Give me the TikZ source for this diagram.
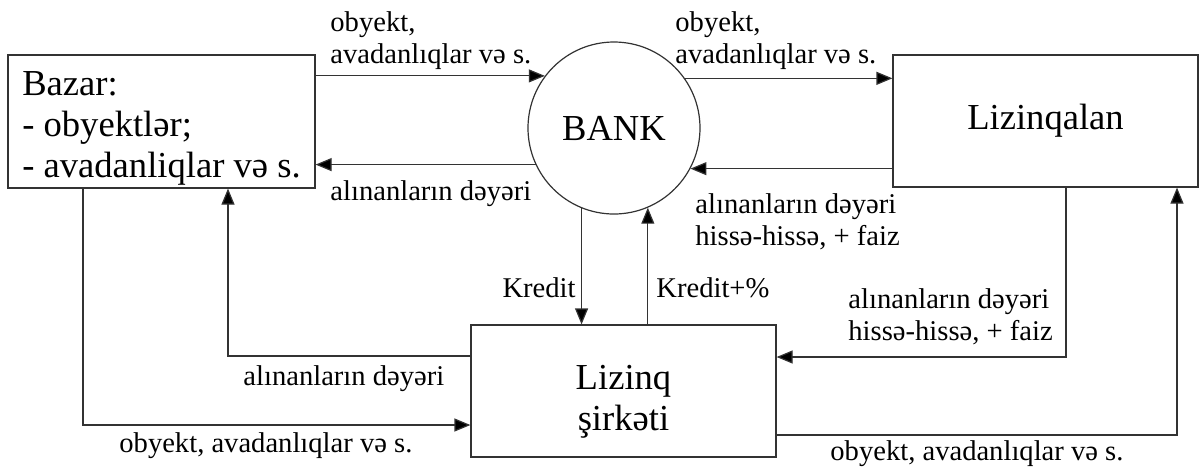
\documentclass[tikz,border=0pt]{standalone}
\usepackage{fontspec}
\setmainfont{Liberation Serif}
\usetikzlibrary{arrows.meta}

\begin{document}
\begin{tikzpicture}[
  x=0.5pt, y=-0.5pt,
  box/.style={
    draw=black!80,
    line width=0.6pt,
    align=center,
    inner sep=0pt,
    font=\fontsize{18.3}{20.5}\selectfont
  },
  bankcircle/.style={
    draw=black!80,
    line width=0.6pt,
    circle,
    inner sep=0pt,
    minimum size=86pt,
    font=\fontsize{18.3}{20.5}\selectfont
  },
  lbl/.style={
    inner sep=0pt,
    align=left,
    font=\fontsize{14.3}{16}\selectfont
  },
  arrow/.style={-{Triangle[length=8pt,width=6.5pt,fill=black]}, draw=black!80, line width=0.6pt}
]
\useasboundingbox (0,0) rectangle (1201,468);

\node[box, align=left, minimum width=153.5pt, minimum height=66.5pt] (bazar) at (161.5,121.5)
  {\rule{0pt}{18.5pt}Bazar:\\- obyektlər;\\- avadanliqlar və s.};
\node[bankcircle] (bank) at (614,128) {BANK};
\node[box, minimum width=152.5pt, minimum height=66pt] (lizinqalan) at (1045.5,121) {Lizinqalan};
\node[box, minimum width=152.5pt, minimum height=66pt] (lizinq) at (623.5,391) {\rule{0pt}{22.5pt}Lizinq\\şirkəti};

\coordinate (bazarout) at (83,425);
\coordinate (bazarin) at (228,356);
\coordinate (lzout) at (1066,357);
\coordinate (lzin) at (1177,435);

% between the market, the bank and the lessee
\draw[arrow] (bazar.east |- bank.143) -- (bank.143);
\draw[arrow] (bank.205) -- (bank.205 -| bazar.east);
\draw[arrow] (bank.35) -- (bank.35 -| lizinqalan.west);
\draw[arrow] (lizinqalan.west |- bank.332) -- (bank.332);

% credit
\draw[arrow] (bank.248) -- (bank.248 |- lizinq.north);
\draw[arrow] (bank.293 |- lizinq.north) -- (bank.293);

% loops round the leasing company
\draw[arrow] (bazar.south -| bazarout) |- (lizinq.west |- bazarout);
\draw[arrow] (lizinq.west |- bazarin) -| (bazar.south -| bazarin);
\draw[arrow] (lizinqalan.south -| lzout) |- (lizinq.east |- lzout);
\draw[arrow] (lizinq.east |- lzin) -| (lizinqalan.south -| lzin);

\node[lbl, anchor=north west] (lblbazarbank) at (330,11) {obyekt,\\avadanlıqlar və s.};
\node[lbl, anchor=base west] (lblbankbazar) at (330,200) {alınanların dəyəri};
\node[lbl, anchor=north west] (lblbanklessee) at (675,11) {obyekt,\\avadanlıqlar və s.};
\node[lbl, anchor=north west] (lbllesseebank) at (695,193) {alınanların dəyəri\\hissə-hissə, + faiz};
\node[lbl, anchor=base east] (lblkredit) at (576,297) {Kredit};
\node[lbl, anchor=base west] (lblkreditfaiz) at (656,297) {Kredit+\%};
\node[lbl, anchor=north west] (lbllesseeco) at (848,288) {alınanların dəyəri\\hissə-hissə, + faiz};
\node[lbl, anchor=base west] (lblcobazar) at (243,385) {alınanların dəyəri};
\node[lbl, anchor=base west] (lblbazarco) at (119,452) {obyekt, avadanlıqlar və s.};
\node[lbl, anchor=base west] (lblcolessee) at (830,460) {obyekt, avadanlıqlar və s.};
\end{tikzpicture}
\end{document}
